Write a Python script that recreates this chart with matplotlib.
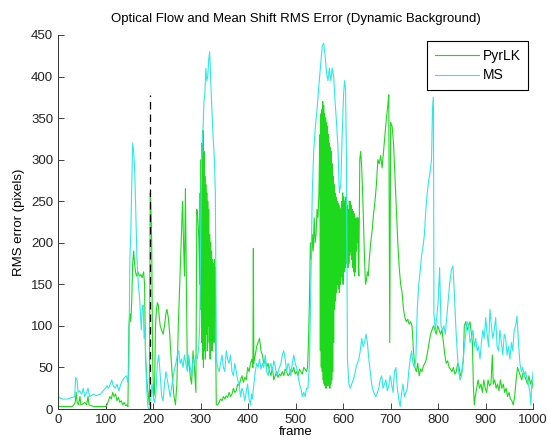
import matplotlib as mpl

mpl.rcParams["font.family"] = ["Liberation Sans", "DejaVu Sans"]
mpl.rcParams["font.size"] = 9.5

import matplotlib.pyplot as plt

# Mean Shift tracker RMS error (cyan)
ms_frame = [
    0, 5, 10, 15, 20, 25, 30, 35, 37, 40,
    42, 45, 50, 53, 56, 60, 63, 66, 70, 75,
    80, 85, 90, 95, 100, 103, 106, 110, 113, 116,
    120, 124, 128, 132, 136, 140, 144, 147, 149, 151,
    153, 155, 157, 159, 161, 163, 166, 169, 172, 175,
    177, 179, 181, 183, 185, 187, 189, 191, 194, 196,
    198, 200, 203, 206, 209, 212, 215, 218, 221, 224,
    227, 230, 233, 236, 240, 244, 248, 251, 254, 257,
    260, 263, 266, 269, 272, 275, 278, 281, 284, 287,
    290, 293, 296, 298, 300, 302, 305, 307, 309, 311,
    313, 315, 317, 319, 321, 323, 326, 329, 331, 333,
    336, 339, 342, 345, 348, 351, 354, 357, 360, 363,
    366, 369, 372, 375, 378, 381, 384, 387, 390, 393,
    396, 399, 402, 405, 407, 409, 412, 415, 418, 421,
    424, 427, 430, 433, 436, 439, 442, 445, 448, 451,
    454, 457, 460, 463, 466, 469, 472, 475, 478, 481,
    484, 487, 490, 493, 496, 499, 502, 505, 508, 511,
    514, 517, 520, 523, 526, 529, 532, 535, 538, 541,
    545, 549, 552, 556, 559, 562, 565, 568, 571, 574,
    577, 580, 583, 586, 589, 592, 595, 598, 601, 603,
    605, 607, 609, 612, 615, 618, 621, 624, 627, 630,
    633, 636, 639, 642, 645, 648, 651, 654, 657, 660,
    663, 666, 669, 672, 675, 678, 681, 684, 687, 690,
    693, 696, 699, 702, 705, 708, 711, 714, 717, 720,
    723, 726, 729, 732, 735, 738, 741, 744, 747, 750,
    753, 756, 759, 762, 765, 768, 771, 774, 777, 780,
    783, 786, 788, 790, 791, 794, 797, 800, 803, 806,
    809, 812, 815, 818, 821, 824, 828, 831, 834, 837,
    840, 843, 846, 849, 852, 855, 858, 861, 864, 867,
    870, 873, 876, 879, 882, 885, 888, 891, 894, 897,
    900, 903, 906, 909, 912, 915, 918, 921, 924, 927,
    930, 933, 936, 939, 942, 945, 948, 951, 954, 957,
    960, 963, 966, 969, 972, 975, 978, 981, 984, 987,
    990, 993, 995, 997, 1000,
]
ms_rms = [
    15, 13, 12, 12, 12, 13, 14, 15, 38, 35,
    20, 22, 18, 25, 15, 20, 25, 15, 16, 18,
    16, 17, 18, 22, 25, 28, 25, 30, 35, 28,
    25, 30, 22, 30, 35, 38, 40, 32, 50, 180,
    210, 270, 320, 310, 290, 250, 180, 150, 130, 95,
    120, 125, 85, 100, 50, 20, 2, 0, 0, 25,
    30, 15, 8, 20, 55, 65, 40, 15, 10, 30,
    45, 35, 25, 15, 30, 45, 55, 65, 70, 55,
    60, 50, 65, 55, 45, 65, 50, 40, 60, 55,
    65, 60, 75, 100, 200, 300, 335, 370, 380, 410,
    395, 400, 420, 430, 400, 370, 330, 300, 260, 60,
    50, 45, 55, 65, 50, 45, 70, 60, 55, 65,
    45, 40, 55, 45, 35, 30, 15, 25, 20, 10,
    20, 30, 12, 5, 18, 12, 30, 45, 55, 50,
    60, 48, 55, 50, 65, 45, 40, 50, 55, 45,
    58, 52, 40, 45, 50, 55, 65, 70, 60, 45,
    55, 50, 40, 55, 65, 55, 50, 40, 30, 25,
    15, 20, 15, 25, 25, 55, 150, 260, 310, 336,
    360, 390, 410, 437, 440, 425, 405, 395, 410, 395,
    410, 400, 370, 345, 315, 260, 270, 330, 380, 395,
    385, 300, 60, 30, 25, 30, 35, 40, 50, 55,
    60, 70, 85, 75, 80, 90, 80, 60, 45, 30,
    22, 18, 15, 20, 25, 35, 40, 25, 30, 35,
    22, 28, 40, 30, 20, 45, 50, 25, 12, 3,
    20, 30, 15, 20, 25, 45, 60, 70, 55, 50,
    60, 120, 150, 165, 185, 195, 210, 240, 260, 275,
    285, 300, 360, 375, 115, 95, 110, 130, 170, 100,
    95, 100, 90, 110, 130, 150, 168, 172, 140, 100,
    70, 45, 35, 40, 55, 75, 90, 105, 100, 80,
    85, 95, 75, 85, 70, 75, 60, 80, 95, 85,
    110, 90, 75, 120, 100, 85, 95, 110, 75, 70,
    95, 80, 65, 90, 85, 65, 75, 60, 80, 70,
    95, 100, 112, 80, 55, 45, 50, 40, 45, 35,
    30, 20, 5, 30, 45,
]

# Pyramidal Lucas-Kanade optical flow RMS error (green)
# frames 0-549
pyr_frame_a = [
    0, 1, 5, 10, 15, 20, 25, 30, 33, 36,
    38, 40, 43, 46, 48, 52, 56, 60, 63, 65,
    70, 75, 80, 85, 90, 95, 100, 103, 106, 109,
    112, 115, 118, 121, 124, 127, 130, 133, 136, 139,
    142, 145, 147, 149, 151, 153, 155, 157, 159, 161,
    163, 165, 168, 171, 174, 177, 180, 182, 184, 186,
    188, 190, 192, 194, 196, 197, 199, 201, 203, 205,
    207, 209, 211, 213, 215, 218, 221, 224, 227, 229,
    232, 235, 238, 241, 244, 247, 250, 253, 256, 259,
    262, 264, 266, 268, 270, 272, 275, 278, 281, 284,
    287, 290, 292, 294, 296, 298, 299, 300, 301, 302,
    303, 304, 305, 306, 307, 308, 309, 310, 311, 312,
    313, 314, 315, 316, 317, 318, 319, 320, 321, 322,
    323, 324, 325, 326, 327, 328, 329, 330, 331, 332,
    333, 336, 339, 342, 345, 348, 351, 354, 357, 360,
    363, 366, 369, 372, 375, 378, 381, 384, 387, 390,
    393, 396, 399, 402, 405, 408, 410, 411, 412, 415,
    418, 421, 424, 427, 430, 433, 436, 439, 442, 445,
    448, 451, 454, 457, 460, 463, 466, 469, 472, 475,
    478, 481, 484, 487, 490, 493, 496, 499, 502, 505,
    508, 511, 514, 517, 520, 523, 525, 527, 529, 531,
    533, 535, 537, 539, 541, 543, 545, 547, 549,
]
pyr_rms_a = [
    48, 3, 3, 3, 3, 3, 3, 3, 5, 8,
    20, 8, 5, 15, 5, 6, 8, 5, 15, 5,
    4, 3, 3, 3, 3, 3, 3, 5, 10, 15,
    12, 20, 15, 18, 10, 14, 8, 10, 5, 8,
    4, 5, 3, 100, 115, 105, 130, 175, 190, 175,
    165, 160, 165, 160, 162, 158, 165, 150, 60, 45,
    25, 15, 5, 260, 230, 200, 60, 15, 20, 100,
    120, 128, 125, 110, 100, 95, 90, 100, 115, 120,
    110, 90, 60, 35, 15, 5, 30, 100, 150, 200,
    250, 200, 160, 265, 150, 50, 60, 40, 30, 70,
    50, 20, 240, 230, 210, 150, 260, 120, 300, 80,
    320, 60, 335, 50, 310, 70, 280, 60, 270, 90,
    260, 70, 250, 100, 240, 80, 210, 60, 200, 90,
    190, 70, 180, 100, 175, 80, 180, 110, 170, 60,
    5, 5, 8, 12, 10, 15, 12, 16, 14, 20,
    15, 18, 25, 20, 22, 30, 28, 35, 40, 32,
    38, 35, 50, 45, 55, 60, 50, 193, 55, 65,
    75, 80, 85, 70, 65, 55, 60, 50, 55, 45,
    40, 50, 35, 40, 45, 38, 42, 40, 45, 40,
    48, 45, 40, 42, 48, 45, 50, 42, 45, 40,
    48, 45, 42, 50, 48, 45, 50, 80, 130, 200,
    180, 210, 190, 230, 200, 210, 240, 230, 260,
]

# frames 551-633, one value per frame (dense jitter)
pyr_frame_b = list(range(551, 634))
pyr_rms_b = [
    330, 70, 355, 50, 360, 45, 370, 35, 365, 30,
    355, 28, 350, 25, 345, 30, 340, 28, 330, 30,
    320, 25, 315, 30, 310, 35, 295, 45, 280, 80,
    270, 120, 260, 130, 255, 140, 250, 150, 248, 145,
    245, 140, 242, 150, 240, 160, 250, 155, 260, 150,
    255, 165, 250, 170, 255, 175, 255, 180, 245, 170,
    240, 175, 250, 185, 250, 190, 245, 180, 240, 170,
    238, 165, 235, 160, 230, 165, 225, 190, 230, 200,
    230, 170, 160,
]

# frames 635-1000
pyr_frame_c = [
    635, 637, 639, 641, 643, 645, 647, 649, 651,
    653, 655, 658, 661, 664, 667, 670, 673, 676, 679,
    682, 685, 688, 691, 694, 696, 698, 700, 703, 706,
    709, 712, 715, 718, 721, 724, 727, 730, 733, 736,
    739, 742, 745, 748, 751, 754, 757, 760, 763, 766,
    769, 772, 775, 778, 781, 784, 787, 790, 793, 796,
    799, 802, 805, 808, 811, 814, 817, 820, 823, 826,
    829, 832, 835, 838, 841, 844, 847, 850, 853, 855,
    858, 861, 864, 867, 870, 872, 874, 876, 878, 881,
    884, 887, 890, 893, 896, 899, 902, 905, 908, 911,
    914, 916, 919, 922, 925, 928, 931, 934, 937, 940,
    943, 946, 949, 952, 955, 958, 961, 964, 967, 970,
    973, 976, 979, 982, 985, 988, 991, 994, 997, 1000,
]
pyr_rms_c = [
    300, 310, 290, 260, 220, 180, 150, 155, 165,
    160, 180, 200, 215, 235, 250, 270, 300, 295, 305,
    290, 310, 330, 350, 365, 378, 80, 345, 340, 320,
    280, 240, 200, 170, 150, 140, 120, 110, 105, 108,
    102, 105, 100, 70, 50, 45, 55, 40, 48, 45,
    52, 55, 60, 70, 80, 90, 95, 100, 95, 90,
    100, 95, 90, 95, 80, 65, 55, 58, 50, 48,
    45, 50, 42, 45, 55, 50, 40, 45, 60, 100,
    105, 95, 100, 105, 90, 80, 30, 5, 15, 25,
    35, 25, 30, 20, 35, 25, 20, 35, 28, 30,
    65, 30, 35, 25, 30, 22, 35, 25, 30, 20,
    25, 15, 20, 12, 10, 5, 15, 35, 50, 45,
    40, 35, 45, 40, 35, 30, 40, 30, 35, 25,
]

pyr_frame = pyr_frame_a + pyr_frame_b + pyr_frame_c
pyr_rms = pyr_rms_a + pyr_rms_b + pyr_rms_c

# marker for the frame where the dynamic background starts
marker_frame = 193
marker_top = 378

fig = plt.figure(figsize=(5.48, 4.48), dpi=100)
ax = fig.add_axes([0.106, 0.087, 0.867, 0.835])

ax.plot(pyr_frame, pyr_rms, color="#1ed81e", linewidth=0.8, label="PyrLK")
ax.plot(ms_frame, ms_rms, color="#2ee8e8", linewidth=0.8, label="MS")
ax.plot([marker_frame, marker_frame], [0, marker_top], color="black",
        linestyle=(0, (6, 4)), linewidth=0.9)

ax.set_xlim(0, 1000)
ax.set_ylim(0, 450)
ax.set_xticks(range(0, 1001, 100))
ax.set_yticks(range(0, 451, 50))
ax.tick_params(direction="in", length=4, width=0.6, colors="#222222")
for side in ["top", "right"]:
    ax.spines[side].set_visible(False)
for side in ["left", "bottom"]:
    ax.spines[side].set_linewidth(0.7)
    ax.spines[side].set_color("#333333")

ax.set_xlabel("frame", labelpad=0)
ax.set_ylabel("RMS error (pixels)", labelpad=4)
ax.set_title("Optical Flow and Mean Shift RMS Error (Dynamic Background)",
             fontsize=9.5, pad=9)

leg = ax.legend(loc="upper right", bbox_to_anchor=(0.99, 0.983),
                borderaxespad=0, fancybox=False, framealpha=1,
                edgecolor="black", handlelength=3.2, handletextpad=0.25,
                labelspacing=0.4, borderpad=0.55, fontsize=10)
leg.get_frame().set_linewidth(0.8)

plt.savefig("out.png", dpi=100)
